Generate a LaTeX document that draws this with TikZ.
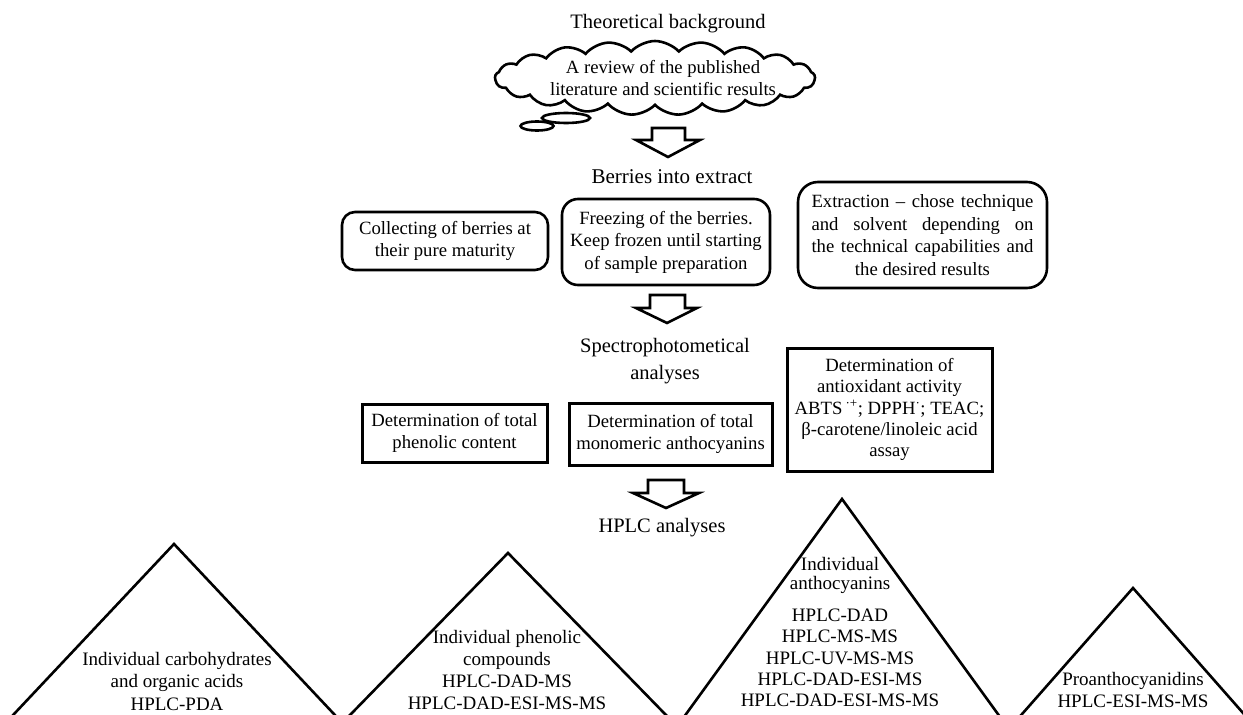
\documentclass[tikz,border=0pt]{standalone}
\usepackage{fontspec}
\setmainfont{Liberation Serif}
\usetikzlibrary{shapes.symbols,shapes.geometric}
\begin{document}
\begin{tikzpicture}[x=1pt,y=-1pt,
  txt/.style={font=\fontsize{18.7}{21.5}\selectfont, align=center, inner sep=0pt},
  head/.style={font=\fontsize{20.5}{27}\selectfont, align=center, inner sep=0pt},
  rbox/.style={draw, line width=2.6pt, align=center, inner sep=0pt, font=\fontsize{18.7}{22.5}\selectfont},
  sbox/.style={draw, line width=3pt, align=center, inner sep=0pt, font=\fontsize{18.7}{21.3}\selectfont},
  blk/.style={draw, line width=2.6pt, fill=white, line join=miter},
  tri/.style={line width=2.6pt, line join=miter}]
\useasboundingbox (0,0) rectangle (1243,715);
\fill[white] (0,0) rectangle (1243,715);

% headings
\node[head, font=\fontsize{20.5}{27}\selectfont] (h1) at (668,24) {Theoretical background};
\node[head, font=\fontsize{21}{27}\selectfont] (h2) at (672,177) {Berries into extract};
\node[head] (h3) at (665,361) {Spectrophotometical\\analyses};
\node[head] (h4) at (662,528) {HPLC analyses};

% cloud
\node[cloud, draw, line width=2.6pt, cloud puffs=21, cloud puff arc=95, cloud ignores aspect,
      minimum width=320pt, minimum height=74pt, inner sep=0pt] (cloud) at (655,78) {};
\node[ellipse, draw, line width=2.6pt, fill=white, minimum width=48pt, minimum height=10pt, inner sep=0pt] (tail1) at (566,118) {};
\node[ellipse, draw, line width=2.6pt, fill=white, minimum width=33pt, minimum height=9pt, inner sep=0pt] (tail2) at (537,126) {};
\node[txt] (ctext) at (663,78) {A review of the published\\literature and scientific results};

% block arrows
\draw[blk] (652,128) -- (685,128) -- (685,140) -- (700,140) -- (668,157) -- (636,140) -- (652,140) -- cycle;
\draw[blk] (650,295) -- (685,295) -- (685,308) -- (697,308) -- (667,323) -- (636,308) -- (650,308) -- cycle;
\draw[blk] (648,480) -- (684,480) -- (684,493) -- (699,493) -- (666,508) -- (633,493) -- (648,493) -- cycle;

% rounded boxes
\node[rbox, rounded corners=13pt, minimum width=206pt, minimum height=58pt] (b1) at (445,241)
  {Collecting of berries at\\their pure maturity};
\node[rbox, rounded corners=16pt, minimum width=208pt, minimum height=86pt] (b2) at (666,242)
  {Freezing of the berries.\\Keep frozen until starting\\of sample preparation};
\node[rbox, rounded corners=20pt, minimum width=249pt, minimum height=106pt] (b3) at (922.5,235)
  {\makebox[222pt][s]{Extraction – chose technique}\\
   \makebox[222pt][s]{and solvent depending on}\\
   \makebox[222pt][s]{the technical capabilities and}\\
   the desired results};

% square boxes
\node[sbox, minimum width=185pt, minimum height=58pt] (ba) at (454.5,433)
  {Determination of total\\phenolic content};
\node[sbox, minimum width=203pt, minimum height=62pt] (bb) at (670.5,434)
  {Determination of total\\monomeric anthocyanins};
\node[sbox, minimum width=205pt, minimum height=123pt] (bc) at (889.5,409.5)
  {Determination of\\antioxidant activity\\ABTS\,\textsuperscript{·+}; DPPH\textsuperscript{·}; TEAC;\\β-carotene/linoleic acid\\assay};

% triangles
\begin{scope}
\clip (0,0) rectangle (1243,715);
\draw[tri] (-1,730) -- (174,544) -- (349,730);
\draw[tri] (335.4,730) -- (508,553) -- (680.6,730);
\draw[tri] (674.5,730) -- (842,499) -- (1009.5,730);
\draw[tri] (1008,730) -- (1133,588) -- (1258,730);
\end{scope}

\node[txt, font=\fontsize{19}{22.5}\selectfont] (t1) at (177,681)
  {Individual carbohydrates\\and organic acids\\HPLC-PDA};
\node[txt, font=\fontsize{19}{21.7}\selectfont] (t2) at (507,670)
  {Individual phenolic\\compounds\\HPLC-DAD-MS\\HPLC-DAD-ESI-MS-MS};
\node[txt, font=\fontsize{19}{19}\selectfont] (t3a) at (840,575)
  {Individual\\anthocyanins};
\node[txt, font=\fontsize{19}{21.3}\selectfont] (t3b) at (840,658)
  {HPLC-DAD\\HPLC-MS-MS\\HPLC-UV-MS-MS\\HPLC-DAD-ESI-MS\\HPLC-DAD-ESI-MS-MS};
\node[txt, font=\fontsize{19}{22}\selectfont] (t4) at (1133,690)
  {Proanthocyanidins\\HPLC-ESI-MS-MS};
\end{tikzpicture}
\end{document}
